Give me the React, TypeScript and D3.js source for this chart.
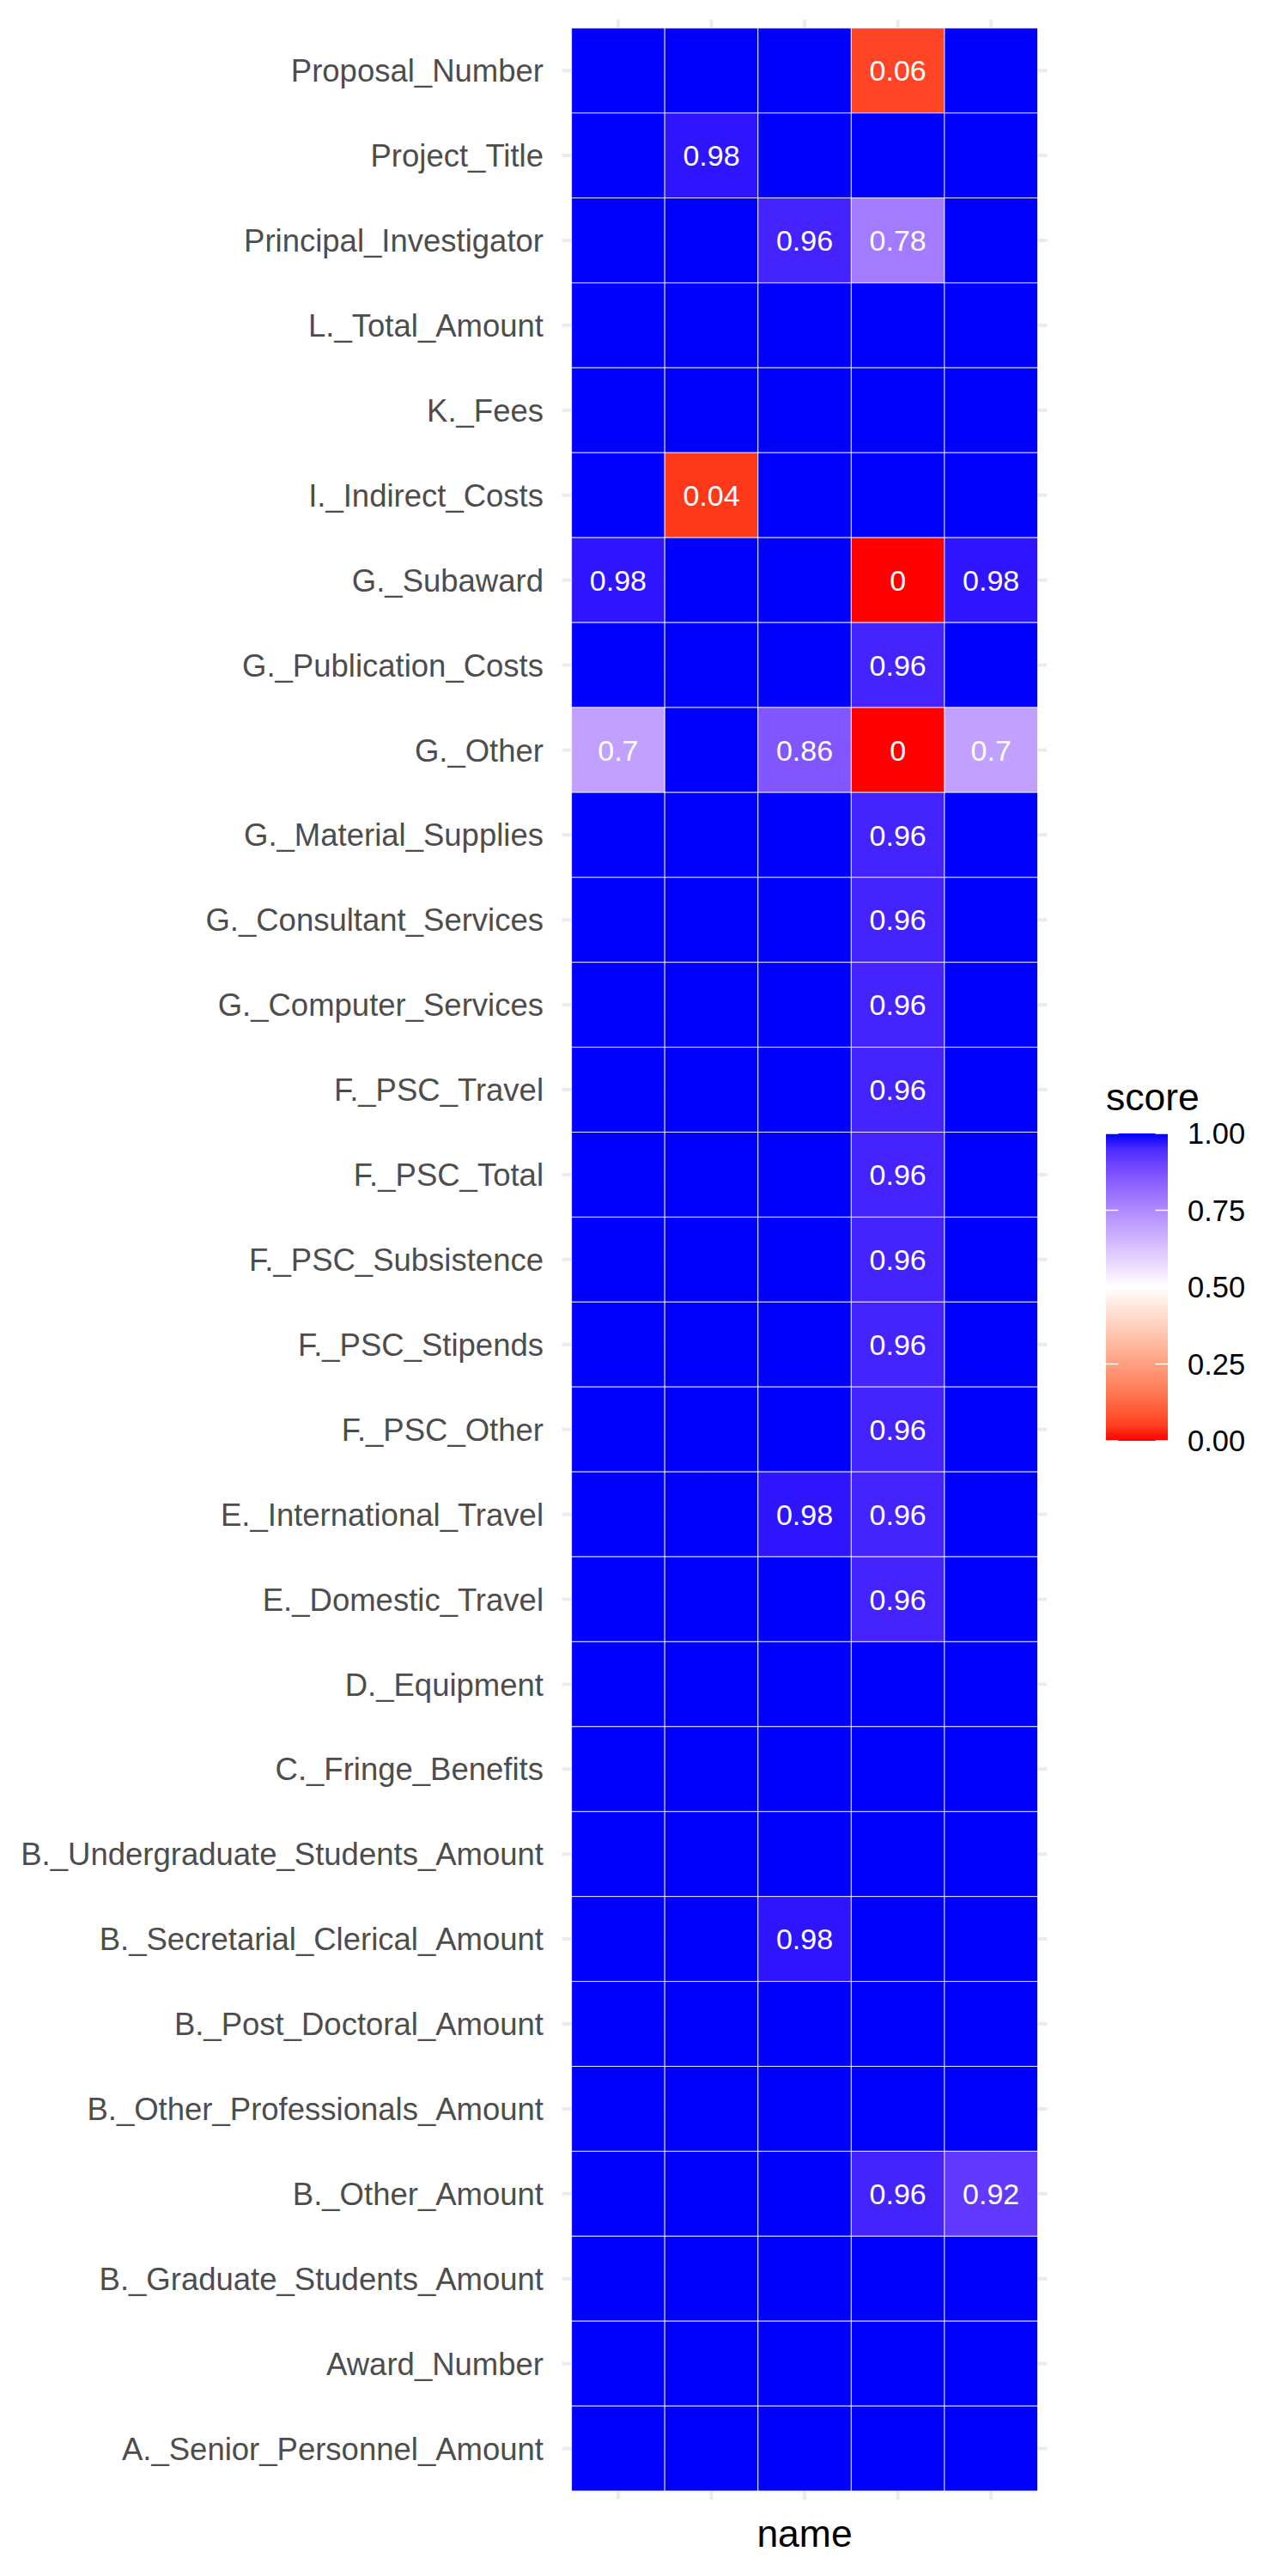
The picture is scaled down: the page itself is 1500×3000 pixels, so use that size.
import React from 'react';
import * as d3 from 'd3';

// Field names, top row first (as drawn)
const fields = [
  'Proposal_Number',
  'Project_Title',
  'Principal_Investigator',
  'L._Total_Amount',
  'K._Fees',
  'I._Indirect_Costs',
  'G._Subaward',
  'G._Publication_Costs',
  'G._Other',
  'G._Material_Supplies',
  'G._Consultant_Services',
  'G._Computer_Services',
  'F._PSC_Travel',
  'F._PSC_Total',
  'F._PSC_Subsistence',
  'F._PSC_Stipends',
  'F._PSC_Other',
  'E._International_Travel',
  'E._Domestic_Travel',
  'D._Equipment',
  'C._Fringe_Benefits',
  'B._Undergraduate_Students_Amount',
  'B._Secretarial_Clerical_Amount',
  'B._Post_Doctoral_Amount',
  'B._Other_Professionals_Amount',
  'B._Other_Amount',
  'B._Graduate_Students_Amount',
  'Award_Number',
  'A._Senior_Personnel_Amount',
];

// x categories (tick labels are blank in the original)
const names = ['n1', 'n2', 'n3', 'n4', 'n5'];

// score per field, one value per name
const scores = [
  [1, 1, 1, 0.06, 1],
  [1, 0.98, 1, 1, 1],
  [1, 1, 0.96, 0.78, 1],
  [1, 1, 1, 1, 1],
  [1, 1, 1, 1, 1],
  [1, 0.04, 1, 1, 1],
  [0.98, 1, 1, 0, 0.98],
  [1, 1, 1, 0.96, 1],
  [0.7, 1, 0.86, 0, 0.7],
  [1, 1, 1, 0.96, 1],
  [1, 1, 1, 0.96, 1],
  [1, 1, 1, 0.96, 1],
  [1, 1, 1, 0.96, 1],
  [1, 1, 1, 0.96, 1],
  [1, 1, 1, 0.96, 1],
  [1, 1, 1, 0.96, 1],
  [1, 1, 1, 0.96, 1],
  [1, 1, 0.98, 0.96, 1],
  [1, 1, 1, 0.96, 1],
  [1, 1, 1, 1, 1],
  [1, 1, 1, 1, 1],
  [1, 1, 1, 1, 1],
  [1, 1, 0.98, 1, 1],
  [1, 1, 1, 1, 1],
  [1, 1, 1, 1, 1],
  [1, 1, 1, 0.96, 0.92],
  [1, 1, 1, 1, 1],
  [1, 1, 1, 1, 1],
  [1, 1, 1, 1, 1],
];

const legendTicks = [0, 0.25, 0.5, 0.75, 1];

const FONT = '"Liberation Sans", Arial, Helvetica, sans-serif';

const App = () => {
  const width = 1500;
  const height = 3000;

  const x = d3.scaleBand<string>().domain(names).range([665.6, 1208.5]).padding(0);
  const y = d3.scaleBand<string>().domain(fields).range([32.7, 2901]).padding(0);

  // extra panel space beyond the tiles (ggplot discrete expansion)
  const padX = x.bandwidth() * 0.1;
  const padY = y.bandwidth() * 0.1;

  const color = d3.scaleLinear<string>()
    .domain([0, 0.5, 1])
    .range(['red', 'white', 'blue'])
    .interpolate(d3.interpolateLab);

  const cells = fields.flatMap((f, i) =>
    names.map((n, j) => ({ field: f, name: n, score: scores[i][j] }))
  );

  // legend
  const legX = 1288;
  const legW = 72;
  const legScale = d3.scaleLinear().domain([0, 1]).range([1678, 1320]);
  const gradStops = d3.range(0, 1.0001, 0.05);

  return (
    <svg
      width={width}
      height={height}
      style={{ position: 'absolute', left: 0, top: 0, background: '#fff' }}
      fontFamily={FONT}
    >
      <defs>
        <linearGradient id="score-grad" x1="0" y1="1" x2="0" y2="0">
          {gradStops.map(s => (
            <stop key={s} offset={`${s * 100}%`} stopColor={color(s)} />
          ))}
        </linearGradient>
      </defs>

      {/* grid */}
      <g stroke="#EBEBEB" strokeWidth={4}>
        {names.map(n => (
          <line key={n}
            x1={x(n)! + x.bandwidth() / 2} x2={x(n)! + x.bandwidth() / 2}
            y1={y.range()[0] - padY} y2={y.range()[1] + padY} />
        ))}
        {fields.map(f => (
          <line key={f}
            x1={x.range()[0] - padX} x2={x.range()[1] + padX}
            y1={y(f)! + y.bandwidth() / 2} y2={y(f)! + y.bandwidth() / 2} />
        ))}
      </g>

      {/* tiles */}
      <g>
        {cells.map(c => (
          <rect key={c.field + c.name}
            x={x(c.name)} y={y(c.field)}
            width={x.bandwidth()} height={y.bandwidth()}
            fill={color(c.score)} stroke="white" strokeWidth={1} strokeOpacity={0.8} />
        ))}
      </g>

      {/* cell labels */}
      <g fill="white" fontSize={34} textAnchor="middle">
        {cells.filter(c => c.score < 1).map(c => (
          <text key={c.field + c.name}
            x={x(c.name)! + x.bandwidth() / 2}
            y={y(c.field)! + y.bandwidth() / 2}
            dy="0.36em">
            {String(c.score)}
          </text>
        ))}
      </g>

      {/* y axis labels */}
      <g fill="#4D4D4D" fontSize={36.5} textAnchor="end">
        {fields.map(f => (
          <text key={f} x={633} y={y(f)! + y.bandwidth() / 2} dy="0.36em">{f}</text>
        ))}
      </g>

      {/* x axis title */}
      <text x={(x.range()[0] + x.range()[1]) / 2} y={2966} fontSize={44.5}
        textAnchor="middle" fill="black">name</text>

      {/* legend */}
      <text x={legX} y={1292.7} fontSize={44.5} fill="black">score</text>
      <rect x={legX} y={1320} width={legW} height={358} fill="url(#score-grad)" />
      <g stroke="white" strokeWidth={1.5}>
        {legendTicks.map(t => (
          <g key={t}>
            <line x1={legX} x2={legX + legW / 5} y1={legScale(t)} y2={legScale(t)} />
            <line x1={legX + legW * 4 / 5} x2={legX + legW} y1={legScale(t)} y2={legScale(t)} />
          </g>
        ))}
      </g>
      <g fontSize={34.5} fill="black">
        {legendTicks.map(t => (
          <text key={t} x={1383} y={legScale(t)} dy="0.36em">{d3.format('.2f')(t)}</text>
        ))}
      </g>
    </svg>
  );
};

export default App;
